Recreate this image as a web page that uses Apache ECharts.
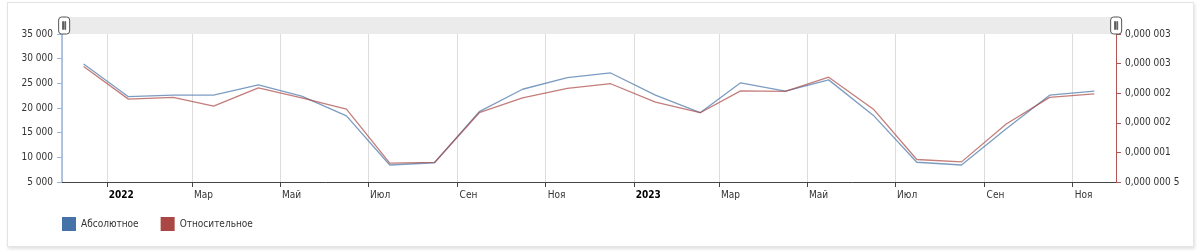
<!DOCTYPE html>
<html>
<head>
<meta charset="utf-8">
<script src="https://cdn.jsdelivr.net/npm/echarts@6/dist/echarts.min.js"></script>
<style>
  html, body { margin: 0; padding: 0; background: #fff; }
  #frame { position: absolute; left: 7px; top: 2px; width: 1185px; height: 243px;
           border: 1px solid #e4e4e4; box-shadow: 1px 2px 3px rgba(0,0,0,0.12); background: #fff; }
  #chart { position: absolute; left: 0; top: 0; width: 1200px; height: 251px; }
</style>
</head>
<body>
<div id="frame"></div>
<div id="chart"></div>
<script>
// ---- data ----
const months = ['2021-12-16','2022-01-16','2022-02-16','2022-03-16','2022-04-16','2022-05-16',
  '2022-06-16','2022-07-16','2022-08-16','2022-09-16','2022-10-16','2022-11-16','2022-12-16',
  '2023-01-16','2023-02-16','2023-03-16','2023-04-16','2023-05-16','2023-06-16','2023-07-16',
  '2023-08-16','2023-09-16','2023-10-16','2023-11-16'];
const absoluteValues = [28900, 22300, 22600, 22600, 24700, 22400, 18400, 8450, 8900, 19250,
  23800, 26150, 27100, 22600, 19050, 25100, 23400, 25700, 18500, 9000, 8450, 15800, 22600, 23400];
const relativeValues = [2.45e-6, 1.90e-6, 1.93e-6, 1.78e-6, 2.09e-6, 1.92e-6, 1.73e-6, 0.82e-6,
  0.83e-6, 1.67e-6, 1.92e-6, 2.08e-6, 2.16e-6, 1.85e-6, 1.67e-6, 2.04e-6, 2.03e-6, 2.27e-6,
  1.73e-6, 0.88e-6, 0.84e-6, 1.48e-6, 1.93e-6, 1.99e-6];
const seriesNames = ['Абсолютное', 'Относительное'];
const monthNames = ['Янв','Фев','Мар','Апр','Май','Июн','Июл','Авг','Сен','Окт','Ноя','Дек'];
const leftTicks = [5000, 35000, 5000];          // min, max, interval
const rightTicks = [0.5e-6, 3e-6, 0.5e-6];      // min, max, interval
const rightTickLabels = ['0,000 000 5','0,000 001','0,000 002','0,000 002','0,000 003','0,000 003'];
const xRange = ['2021-12-01', '2023-12-01'];

function utc(s) { const p = s.split('-').map(Number); return Date.UTC(p[0], p[1] - 1, p[2]); }

const FONT = 'DejaVu Sans Condensed';
const chart = echarts.init(document.getElementById('chart'), null, { renderer: 'canvas' });
const handlePath = 'path://M3,0H8A3,3,0,0,1,11,3V14A3,3,0,0,1,8,17H3A3,3,0,0,1,0,14V3A3,3,0,0,1,3,0Z' +
  'M4,4.5H4.8V12.5H4ZM6.2,4.5H7V12.5H6.2Z';

chart.setOption({
  useUTC: true,
  animation: false,
  textStyle: { fontFamily: FONT },
  grid: { left: 62, right: 84, top: 34, bottom: 69 },
  dataZoom: [{
    type: 'slider', xAxisIndex: 0, start: 0, end: 100,
    left: 62, right: 84, top: 17, height: 17,
    backgroundColor: '#ebebeb', borderColor: 'transparent', fillerColor: 'rgba(0,0,0,0)',
    showDataShadow: false, showDetail: false, brushSelect: false, moveHandleSize: 0,
    dataBackground: { lineStyle: { opacity: 0 }, areaStyle: { opacity: 0 } },
    selectedDataBackground: { lineStyle: { opacity: 0 }, areaStyle: { opacity: 0 } },
    handleIcon: handlePath, handleSize: '100%',
    handleStyle: { color: '#ffffff', borderColor: '#555', borderWidth: 1 },
    emphasis: { handleStyle: { color: '#ffffff', borderColor: '#555' } },
    filterMode: 'none'
  }],
  legend: {
    left: 57, top: 212, itemWidth: 14, itemHeight: 14, itemGap: 22,
    textStyle: { fontFamily: FONT, fontSize: 10, color: '#333' },
    data: [
      { name: seriesNames[0], icon: 'rect', itemStyle: { color: '#4572A7' } },
      { name: seriesNames[1], icon: 'rect', itemStyle: { color: '#AA4643' } }
    ]
  },
  xAxis: {
    type: 'time',
    min: utc(xRange[0]), max: utc(xRange[1]),
    splitNumber: 12,
    axisLine: { lineStyle: { color: '#444', width: 1 } },
    axisTick: { show: true, length: 5, lineStyle: { color: '#444' } },
    splitLine: { show: true, lineStyle: { color: '#dddddd', width: 1 } },
    axisLabel: {
      fontFamily: FONT, fontSize: 10, color: '#333', align: 'left', margin: 8, padding: [0, 0, 0, 2],
      showMinLabel: false, showMaxLabel: false,
      hideOverlap: false,
      formatter: function (v) {
        const d = new Date(v);
        const m = d.getUTCMonth();
        return m === 0 ? '{y|' + d.getUTCFullYear() + '}' : monthNames[m];
      },
      rich: { y: { fontFamily: FONT, fontSize: 10, fontWeight: 'bold', color: '#000' } }
    }
  },
  yAxis: [{
    type: 'value', position: 'left',
    min: leftTicks[0], max: leftTicks[1], interval: leftTicks[2],
    axisLine: { show: true, lineStyle: { color: '#9ab3d8', width: 1.5 } },
    axisTick: { show: true, length: 5, lineStyle: { color: '#9ab3d8' } },
    splitLine: { show: false },
    axisLabel: {
      fontFamily: FONT, fontSize: 10, color: '#333', margin: 9,
      formatter: v => String(v).replace(/\B(?=(\d{3})+(?!\d))/g, ' ')
    }
  }, {
    type: 'value', position: 'right',
    min: rightTicks[0], max: rightTicks[1], interval: rightTicks[2],
    axisLine: { show: true, lineStyle: { color: '#b55553', width: 1 } },
    axisTick: { show: true, length: 5, lineStyle: { color: '#b55553' } },
    splitLine: { show: false },
    axisLabel: {
      fontFamily: FONT, fontSize: 10, color: '#333', margin: 9,
      formatter: v => rightTickLabels[Math.round((v - rightTicks[0]) / rightTicks[2])] || ''
    }
  }],
  series: [{
    name: seriesNames[0], type: 'line', yAxisIndex: 0, showSymbol: false, symbol: 'none',
    itemStyle: { color: '#4572A7' },
    lineStyle: { color: '#4572A7', width: 1.3, opacity: 0.7 },
    data: months.map((m, i) => [utc(m), absoluteValues[i]])
  }, {
    name: seriesNames[1], type: 'line', yAxisIndex: 1, showSymbol: false, symbol: 'none',
    itemStyle: { color: '#AA4643' },
    lineStyle: { color: '#AA4643', width: 1.3, opacity: 0.7 },
    data: months.map((m, i) => [utc(m), relativeValues[i]])
  }]
});
</script>
</body>
</html>
